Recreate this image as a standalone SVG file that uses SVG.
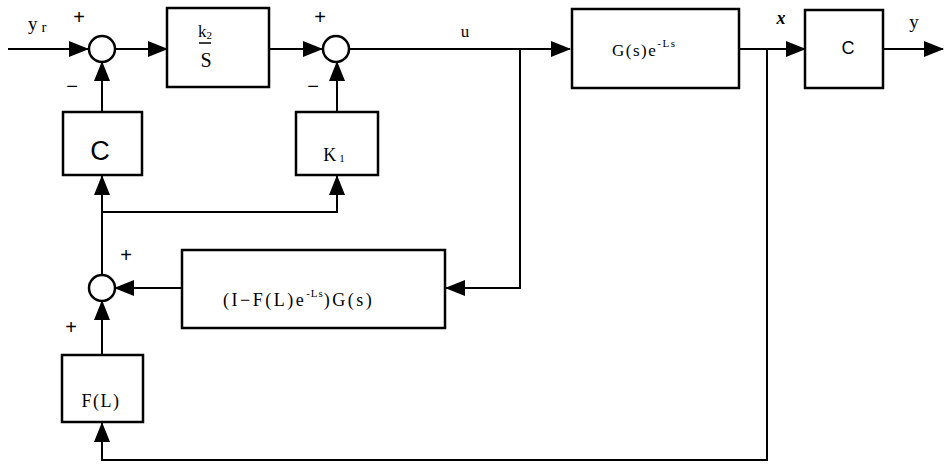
<svg xmlns="http://www.w3.org/2000/svg" width="944" height="464" viewBox="0 0 944 464">
<style>
.box{fill:#fff;stroke:#000;stroke-width:2.5}
.sum{fill:#fff;stroke:#000;stroke-width:2.5}
.ln{fill:none;stroke:#000;stroke-width:2}
.t{font-family:"Liberation Serif","Times New Roman",serif;fill:#000}
.s{font-family:"Liberation Sans",Arial,sans-serif;fill:#000}
.sign{font-family:"Liberation Sans",Arial,sans-serif;font-size:20px;fill:#000;text-anchor:middle}
</style>
<defs>
<marker id="ah" markerWidth="20" markerHeight="16" refX="19" refY="8" orient="auto" markerUnits="userSpaceOnUse">
<path d="M0,0 L20,8 L0,16 Z" fill="#000"/>
</marker>
</defs>
<rect width="944" height="464" fill="#fff"/>
<g id="connectors">
<path class="ln" d="M8,49 H88" marker-end="url(#ah)"/>
<path class="ln" d="M115,49 H167" marker-end="url(#ah)"/>
<path class="ln" d="M269,49 H322" marker-end="url(#ah)"/>
<path class="ln" d="M349,49 H570" marker-end="url(#ah)"/>
<path class="ln" d="M739,49 H805" marker-end="url(#ah)"/>
<path class="ln" d="M883,49 H943" marker-end="url(#ah)"/>
<path class="ln" d="M102,112 V62" marker-end="url(#ah)"/>
<path class="ln" d="M337,112 V62" marker-end="url(#ah)"/>
<path class="ln" d="M102,275 V176" marker-end="url(#ah)"/>
<path class="ln" d="M102,212 H337 V176" marker-end="url(#ah)"/>
<path class="ln" d="M520,49 V288 H446" marker-end="url(#ah)"/>
<path class="ln" d="M182,288 H115" marker-end="url(#ah)"/>
<path class="ln" d="M102,355 V301" marker-end="url(#ah)"/>
<path class="ln" d="M767,49 V460 H102 V423" marker-end="url(#ah)"/>
</g>
<g id="sum1"><circle class="sum" cx="102" cy="49" r="13"/><text class="sign" x="79" y="24">+</text><text class="sign" x="72" y="93">−</text></g>
<g id="yr-label"><text class="t" x="28" y="30" font-size="19">y<tspan font-size="15" dy="2" dx="4">r</tspan></text></g>
<g id="integrator"><rect class="box" x="167" y="8" width="102" height="79"/>
<text class="t" x="205" y="37" font-size="17" text-anchor="middle">k<tspan font-size="11" dy="2">2</tspan></text>
<line x1="199" y1="43" x2="211" y2="43" stroke="#000" stroke-width="1.5"/>
<text class="t" x="206" y="67" font-size="20" text-anchor="middle">S</text></g>
<g id="sum2"><circle class="sum" cx="336" cy="49" r="13"/><text class="sign" x="320" y="24">+</text><text class="sign" x="313" y="93">−</text></g>
<g id="u-label"><text class="t" x="465" y="37" font-size="17" text-anchor="middle">u</text></g>
<g id="plant"><rect class="box" x="572" y="9" width="167" height="79"/>
<text class="t" x="612" y="56" font-size="17" letter-spacing="1.5">G(s)e<tspan font-size="11" dy="-9" letter-spacing="1.5">-Ls</tspan></text></g>
<g id="x-label"><text class="t" x="781" y="24" font-size="18" font-style="italic" font-weight="bold" text-anchor="middle">x</text></g>
<g id="output-C"><rect class="box" x="805" y="10" width="78" height="78"/>
<text class="s" x="848" y="54" font-size="18" text-anchor="middle">C</text></g>
<g id="y-label"><text class="t" x="914" y="28" font-size="19" text-anchor="middle">y</text></g>
<g id="C-block"><rect class="box" x="63" y="112" width="79" height="63"/>
<text class="s" x="100" y="160" font-size="27" text-anchor="middle">C</text></g>
<g id="K1-block"><rect class="box" x="296" y="112" width="82" height="63"/>
<text class="t" x="334" y="161" font-size="18" text-anchor="middle">K<tspan font-size="11" dy="1" dx="3">1</tspan></text></g>
<g id="sum3"><circle class="sum" cx="102" cy="288" r="13"/><text class="sign" x="126" y="262">+</text><text class="sign" x="71" y="334">+</text></g>
<g id="predictor"><rect class="box" x="182" y="250" width="263" height="78"/>
<text class="t" x="223" y="306" font-size="18" letter-spacing="2.5">(I−F(L)e<tspan font-size="11" dy="-9" letter-spacing="1">-Ls</tspan><tspan dy="9" font-size="18" letter-spacing="2.5">)G(s)</tspan></text></g>
<g id="FL-block"><rect class="box" x="62" y="355" width="81" height="67"/>
<text class="t" x="101" y="407" font-size="18" letter-spacing="1.5" text-anchor="middle">F(L)</text></g>
</svg>
